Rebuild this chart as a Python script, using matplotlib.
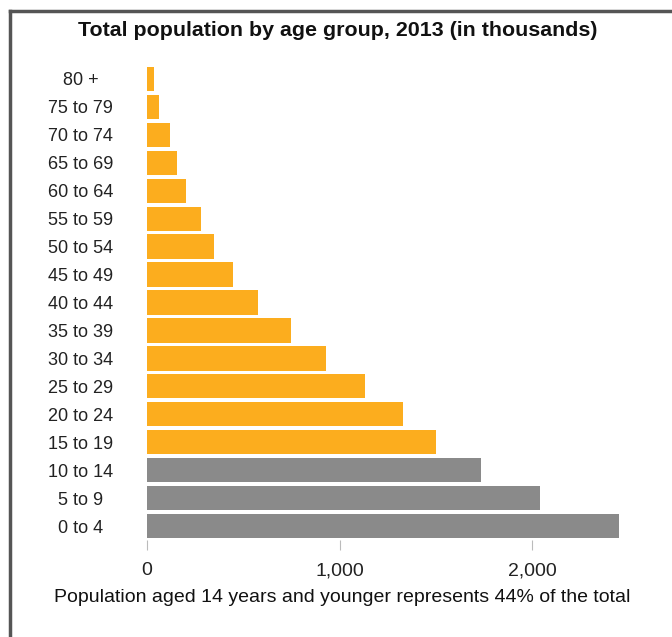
import matplotlib
matplotlib.use("Agg")
import matplotlib.pyplot as plt
from matplotlib.lines import Line2D

# Age groups, bottom to top
age_groups = ["0 to 4", "5 to 9", "10 to 14", "15 to 19", "20 to 24", "25 to 29",
              "30 to 34", "35 to 39", "40 to 44", "45 to 49", "50 to 54", "55 to 59",
              "60 to 64", "65 to 69", "70 to 74", "75 to 79", "80 +"]
population = [2449, 2042, 1734, 1499, 1327, 1132, 927, 748, 575, 444, 349, 278,
              202, 155, 117, 63, 36]
is_young = [True, True, True] + [False] * 14
x_ticks = [0, 1000, 2000]
x_tick_labels = ["0", "1,000", "2,000"]

title = "Total population by age group, 2013 (in thousands)"
note = "Population aged 14 years and younger represents 44% of the total"

orange = "#FCAD1E"
grey = "#8A8A8A"

plt.rcParams["font.family"] = ["Liberation Sans", "DejaVu Sans"]

W, H = 672, 637
fig = plt.figure(figsize=(W / 100, H / 100), dpi=100)

# frame lines (top and left only are visible in the reference)
fig.add_artist(Line2D([10 / W, 1], [1 - 11 / H, 1 - 11 / H], color="#555555", lw=2.5))
fig.add_artist(Line2D([10 / W, 10 / W], [0, 1 - 11 / H], color="#555555", lw=2.5))

ax = fig.add_axes([147 / W, 1 - 540 / H, 501 / W, 475 / H])
colors = [grey if y else orange for y in is_young]
ax.barh(range(len(age_groups)), population, height=0.87, color=colors)
ax.set_xlim(0, 2600)
ax.set_ylim(-0.5, len(age_groups) - 0.5)

ax.set_xticks(x_ticks)
ax.set_xticklabels(x_tick_labels, fontsize=14, color="#222222")
ax.tick_params(axis="x", length=7, width=0.8, color="#bbbbbb", pad=9)
ax.set_yticks(range(len(age_groups)))
ax.set_yticklabels(age_groups, fontsize=13, color="#222222", ha="center")
ax.tick_params(axis="y", length=0, pad=48)
for s in ax.spines.values():
    s.set_visible(False)

fig.text(338 / W, 1 - 30 / H, title, ha="center", va="center", fontsize=15.4,
         fontweight="bold", color="#111111")
fig.text(342 / W, 1 - 598 / H, note, ha="center", va="center", fontsize=14,
         color="#111111")

fig.savefig("out.png", dpi=100)
